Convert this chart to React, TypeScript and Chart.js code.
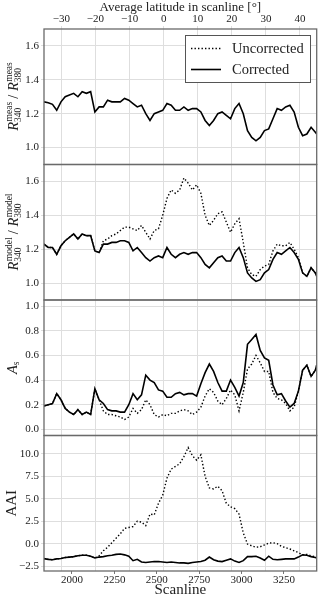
import React, { useEffect, useRef } from 'react';
import { Chart, registerables } from 'chart.js';

Chart.register(...registerables);

const FONT = "'Liberation Serif', 'DejaVu Serif', 'Times New Roman', serif";
const TEXT = '#222222';
const GRID = '#dedede';
const FRAME = '#6a6a6a';

// Scanline positions of the samples
const SCANLINES = [
  1835, 1860, 1885, 1910, 1935, 1960, 1985, 2010, 2035, 2060,
  2085, 2110, 2135, 2160, 2185, 2210, 2235, 2260, 2285, 2310,
  2335, 2360, 2385, 2410, 2435, 2460, 2485, 2510, 2535, 2560,
  2585, 2610, 2635, 2660, 2685, 2710, 2735, 2760, 2785, 2810,
  2835, 2860, 2885, 2910, 2935, 2960, 2985, 3010, 3035, 3060,
  3085, 3110, 3135, 3160, 3185, 3210, 3235, 3260, 3285, 3310,
  3335, 3360, 3385, 3410, 3435, 3443,
];

const SCAN_TICKS = [2000, 2250, 2500, 2750, 3000, 3250];
const LAT_TICKS = [-30, -20, -10, 0, 10, 20, 30, 40];
const RATIO_TICKS = [1.0, 1.2, 1.4, 1.6];
const AS_TICKS = [0.0, 0.2, 0.4, 0.6, 0.8, 1.0];
const AAI_TICKS = [-2.5, 0.0, 2.5, 5.0, 7.5, 10.0];

// Panel 1: measured ratio (identical for both)
const MEAS_CORR = [
  1.27, 1.265, 1.255, 1.22, 1.27, 1.30, 1.31, 1.32, 1.30, 1.33,
  1.32, 1.33, 1.21, 1.24, 1.24, 1.28, 1.27, 1.27, 1.27, 1.29,
  1.28, 1.26, 1.24, 1.25, 1.20, 1.16, 1.20, 1.21, 1.22, 1.26,
  1.25, 1.22, 1.22, 1.24, 1.22, 1.23, 1.23, 1.21, 1.16, 1.13,
  1.16, 1.20, 1.21, 1.19, 1.17, 1.23, 1.26, 1.20, 1.10, 1.06,
  1.04, 1.06, 1.10, 1.11, 1.17, 1.23, 1.22, 1.24, 1.25, 1.21,
  1.12, 1.07, 1.08, 1.12, 1.09, 1.08,
];

// Panel 2: modelled ratio
const MODEL_CORR = [
  1.23, 1.21, 1.21, 1.17, 1.22, 1.25, 1.27, 1.29, 1.26, 1.29,
  1.28, 1.28, 1.19, 1.18, 1.23, 1.23, 1.24, 1.24, 1.25, 1.25,
  1.24, 1.19, 1.21, 1.18, 1.15, 1.13, 1.15, 1.16, 1.15, 1.21,
  1.17, 1.15, 1.17, 1.18, 1.17, 1.18, 1.18, 1.15, 1.11, 1.09,
  1.12, 1.15, 1.16, 1.13, 1.13, 1.18, 1.21, 1.15, 1.06, 1.03,
  1.01, 1.02, 1.06, 1.08, 1.14, 1.18, 1.17, 1.19, 1.21, 1.18,
  1.14, 1.06, 1.04, 1.09, 1.06, 1.04,
];
const MODEL_UNCORR = [
  1.23, 1.21, 1.21, 1.17, 1.22, 1.25, 1.27, 1.29, 1.26, 1.29,
  1.28, 1.28, 1.19, 1.18, 1.25, 1.26, 1.28, 1.29, 1.31, 1.33,
  1.33, 1.32, 1.31, 1.34, 1.30, 1.26, 1.31, 1.32, 1.40, 1.50,
  1.55, 1.53, 1.55, 1.62, 1.59, 1.55, 1.58, 1.53, 1.40, 1.34,
  1.37, 1.41, 1.42, 1.36, 1.30, 1.35, 1.38, 1.24, 1.09, 1.05,
  1.04, 1.08, 1.10, 1.11, 1.19, 1.23, 1.22, 1.22, 1.24, 1.20,
  1.15, 1.06, 1.04, 1.09, 1.06, 1.04,
];

// Panel 3: surface albedo
const AS_CORR = [
  0.19, 0.20, 0.21, 0.29, 0.24, 0.17, 0.14, 0.12, 0.16, 0.12,
  0.14, 0.12, 0.33, 0.24, 0.21, 0.16, 0.15, 0.15, 0.14, 0.14,
  0.20, 0.29, 0.24, 0.28, 0.44, 0.40, 0.38, 0.32, 0.31, 0.26,
  0.26, 0.29, 0.30, 0.28, 0.29, 0.29, 0.27, 0.37, 0.46, 0.53,
  0.47, 0.38, 0.31, 0.31, 0.40, 0.34, 0.27, 0.38, 0.69, 0.73,
  0.77, 0.64, 0.58, 0.56, 0.36, 0.28, 0.29, 0.23, 0.18, 0.21,
  0.31, 0.48, 0.52, 0.43, 0.48, 0.52,
];
const AS_UNCORR = [
  0.19, 0.20, 0.21, 0.29, 0.24, 0.17, 0.14, 0.12, 0.16, 0.12,
  0.14, 0.12, 0.33, 0.24, 0.15, 0.12, 0.12, 0.11, 0.10, 0.08,
  0.10, 0.17, 0.13, 0.16, 0.24, 0.20, 0.12, 0.10, 0.12, 0.11,
  0.13, 0.13, 0.15, 0.16, 0.15, 0.12, 0.14, 0.18, 0.27, 0.33,
  0.30, 0.23, 0.20, 0.25, 0.32, 0.28, 0.15, 0.30, 0.49, 0.53,
  0.60, 0.54, 0.47, 0.47, 0.30, 0.25, 0.24, 0.21, 0.15, 0.18,
  0.31, 0.48, 0.52, 0.43, 0.48, 0.52,
];

// Panel 4: absorbing aerosol index
const AAI_CORR = [
  -1.67, -1.75, -1.8, -1.7, -1.65, -1.55, -1.5, -1.45, -1.35, -1.3,
  -1.3, -1.4, -1.6, -1.5, -1.45, -1.35, -1.3, -1.2, -1.15, -1.25,
  -1.4, -1.9, -1.75, -2.05, -2.1, -2.05, -2.0, -2.0, -2.05, -2.1,
  -2.05, -2.1, -2.15, -2.15, -2.2, -2.1, -2.05, -2.0, -1.85, -1.5,
  -1.8, -1.95, -2.0, -1.85, -1.7, -1.95, -2.1, -1.9, -1.45, -1.45,
  -1.4, -1.6, -1.85, -1.4, -1.75, -1.8, -1.75, -1.7, -1.7, -1.7,
  -1.5, -1.25, -1.3, -1.45, -1.55, -1.6,
];
const AAI_UNCORR = [
  -1.67, -1.75, -1.8, -1.7, -1.65, -1.55, -1.5, -1.45, -1.35, -1.3,
  -1.3, -1.4, -1.6, -1.35, -0.8, -0.4, 0.1, 0.6, 1.1, 1.7,
  1.8, 1.9, 2.5, 2.4, 2.0, 3.3, 3.2, 4.5, 5.4, 7.3,
  8.3, 8.6, 8.9, 9.7, 10.7, 9.8, 9.3, 9.9, 7.5, 6.2,
  6.1, 6.4, 5.9, 4.5, 4.1, 3.9, 3.3, 1.2, -0.05, -0.25,
  -0.4, -0.35, -0.15, 0.05, 0.1, 0.0, -0.3, -0.45, -0.6, -0.8,
  -1.0, -1.25, -1.2, -1.35, -1.45, -1.55,
];

const X_MIN = 1835;
const X_MAX = 3443;
const LAT_MIN = -35.1;
const LAT_MAX = 44.9;

const fmtMinus = (s: string) => s.replace('-', '\u2212');

const pts = (arr: number[]) => SCANLINES.map((s, i) => ({ x: s, y: arr[i] }));

const solid = (data: number[], yAxisID: string) => ({
  data: pts(data),
  yAxisID,
  xAxisID: 'x',
  borderColor: '#000',
  borderWidth: 1.6,
  pointRadius: 0,
  fill: false,
  tension: 0,
  order: 0,
});
const dotted = (data: number[], yAxisID: string) => ({
  data: pts(data),
  yAxisID,
  xAxisID: 'x',
  borderColor: '#000',
  borderWidth: 1.4,
  borderDash: [1.4, 2.1],
  borderCapStyle: 'butt',
  pointRadius: 0,
  fill: false,
  tension: 0,
  order: 1,
});

const yScale = (min: number, max: number, ticks: number[], weight: number) => ({
  type: 'linear',
  position: 'left',
  stack: 'panels',
  stackWeight: 1,
  weight,
  min,
  max,
  afterBuildTicks: (s: any) => {
    s.ticks = ticks.map((v) => ({ value: v }));
  },
  afterFit: (s: any) => {
    s.width = 44;
  },
  grid: { color: GRID, lineWidth: 1, drawTicks: true, tickLength: 3, tickColor: GRID },
  border: { display: false },
  ticks: {
    autoSkip: false,
    padding: 2,
    color: TEXT,
    font: { family: FONT, size: 11 },
    callback: (v: number) => fmtMinus(Number(v).toFixed(1)),
  },
});

type Part =
  | { t: string; size: number; italic?: boolean }
  | { sup: string; sub: string; size: number };

function drawRich(ctx: CanvasRenderingContext2D, x: number, cy: number, parts: Part[]) {
  ctx.save();
  ctx.translate(x, cy);
  ctx.rotate(-Math.PI / 2);
  ctx.fillStyle = TEXT;
  ctx.textBaseline = 'alphabetic';
  ctx.textAlign = 'left';
  const fontOf = (size: number, italic?: boolean) => `${italic ? 'italic ' : ''}${size}px ${FONT}`;
  const widths = parts.map((p) => {
    if ('t' in p) {
      ctx.font = fontOf(p.size, p.italic);
      return ctx.measureText(p.t).width;
    }
    ctx.font = fontOf(p.size);
    return Math.max(ctx.measureText(p.sup).width, ctx.measureText(p.sub).width);
  });
  const total = widths.reduce((a, b) => a + b, 0);
  let cx = -total / 2;
  parts.forEach((p, i) => {
    if ('t' in p) {
      ctx.font = fontOf(p.size, p.italic);
      ctx.fillText(p.t, cx, 0);
    } else {
      ctx.font = fontOf(p.size);
      ctx.fillText(p.sup, cx + 0.5, -6.5);
      ctx.fillText(p.sub, cx, 2.8);
    }
    cx += widths[i];
  });
  ctx.restore();
}

const panelPlugin = {
  id: 'panelDecor',
  afterDatasetsDraw(chart: any) {
    const { ctx, chartArea } = chart;
    const left = chartArea.left;
    const w = chartArea.right - chartArea.left;
    ctx.save();
    ctx.strokeStyle = FRAME;
    ctx.lineWidth = 1.3;
    ['y1', 'y2', 'y3', 'y4'].forEach((id) => {
      const s = chart.scales[id];
      ctx.strokeRect(left, s.top, w, s.bottom - s.top);
    });
    ctx.restore();

    // Legend box inside the first panel
    const lx = 185;
    const ly = 35;
    const lw = 125;
    const lh = 47;
    ctx.save();
    ctx.fillStyle = '#ffffff';
    ctx.fillRect(lx, ly, lw, lh);
    ctx.strokeStyle = '#555555';
    ctx.lineWidth = 1;
    ctx.strokeRect(lx + 0.5, ly + 0.5, lw, lh);
    ctx.strokeStyle = '#000';
    ctx.lineWidth = 1.4;
    ctx.setLineDash([1.4, 2.1]);
    ctx.beginPath();
    ctx.moveTo(191, 48.5);
    ctx.lineTo(221, 48.5);
    ctx.stroke();
    ctx.setLineDash([]);
    ctx.lineWidth = 1.6;
    ctx.beginPath();
    ctx.moveTo(191, 69.5);
    ctx.lineTo(221, 69.5);
    ctx.stroke();
    ctx.fillStyle = TEXT;
    ctx.font = `14.5px ${FONT}`;
    ctx.textBaseline = 'middle';
    ctx.textAlign = 'left';
    ctx.fillText('Uncorrected', 232, 49);
    ctx.fillText('Corrected', 232, 70);
    ctx.restore();

    // y-axis titles
    const mid = (id: string) => (chart.scales[id].top + chart.scales[id].bottom) / 2;
    drawRich(ctx, 18, mid('y1'), [
      { t: 'R', size: 14.5, italic: true },
      { sup: 'meas', sub: '340', size: 9.5 },
      { t: ' / ', size: 14.5 },
      { t: 'R', size: 14.5, italic: true },
      { sup: 'meas', sub: '380', size: 9.5 },
    ]);
    drawRich(ctx, 18, mid('y2'), [
      { t: 'R', size: 14.5, italic: true },
      { sup: 'model', sub: '340', size: 9.5 },
      { t: ' / ', size: 14.5 },
      { t: 'R', size: 14.5, italic: true },
      { sup: 'model', sub: '380', size: 9.5 },
    ]);
    drawRich(ctx, 16.5, mid('y3'), [
      { t: 'A', size: 14.5, italic: true },
      { sup: '', sub: 's', size: 9.5 },
    ]);
    drawRich(ctx, 15.5, mid('y4'), [{ t: 'AAI', size: 15 }]);
  },
};

export default function App() {
  const ref = useRef<HTMLCanvasElement>(null);

  useEffect(() => {
    const canvas = ref.current;
    if (!canvas) return;
    const chart = new Chart(canvas, {
      type: 'line',
      data: {
        datasets: [
          solid(MEAS_CORR, 'y1'),
          solid(MODEL_CORR, 'y2'),
          dotted(MODEL_UNCORR, 'y2'),
          solid(AS_CORR, 'y3'),
          dotted(AS_UNCORR, 'y3'),
          solid(AAI_CORR, 'y4'),
          dotted(AAI_UNCORR, 'y4'),
        ] as any,
      },
      options: {
        responsive: false,
        animation: false,
        events: [],
        layout: { padding: { left: 0, right: 3.3, top: 0, bottom: 0 } },
        plugins: {
          legend: { display: false },
          tooltip: { enabled: false },
          title: { display: false },
        },
        scales: {
          x: {
            type: 'linear',
            position: 'bottom',
            min: X_MIN,
            max: X_MAX,
            afterBuildTicks: (s: any) => {
              s.ticks = SCAN_TICKS.map((v) => ({ value: v }));
            },
            afterFit: (s: any) => {
              s.height = 29;
            },
            grid: { drawOnChartArea: false, drawTicks: true, tickLength: 3, tickColor: '#777', lineWidth: 1 },
            border: { display: false },
            ticks: {
              autoSkip: false,
              maxRotation: 0,
              padding: 0,
              color: TEXT,
              font: { family: FONT, size: 11 },
              callback: (v: number) => String(v),
            },
            title: {
              display: true,
              text: 'Scanline',
              color: TEXT,
              font: { family: FONT, size: 15 },
              padding: { top: 0, bottom: 1 },
            },
          },
          x2: {
            type: 'linear',
            position: 'top',
            min: LAT_MIN,
            max: LAT_MAX,
            afterBuildTicks: (s: any) => {
              s.ticks = LAT_TICKS.map((v) => ({ value: v }));
            },
            afterFit: (s: any) => {
              s.height = 29;
            },
            grid: { color: GRID, lineWidth: 1, drawTicks: true, tickLength: 3, tickColor: GRID },
            border: { display: false },
            ticks: {
              autoSkip: false,
              maxRotation: 0,
              padding: 0,
              color: TEXT,
              font: { family: FONT, size: 11 },
              callback: (v: number) => fmtMinus(String(v)),
            },
            title: {
              display: true,
              text: 'Average latitude in scanline [\u00b0]',
              color: TEXT,
              font: { family: FONT, size: 13, lineHeight: 1.1 },
              padding: { top: 0, bottom: 0 },
            },
          },
          y1: yScale(0.9, 1.7, RATIO_TICKS, 4),
          y2: yScale(0.9, 1.7, RATIO_TICKS, 3),
          y3: yScale(-0.05, 1.05, AS_TICKS, 2),
          y4: yScale(-3.05, 12.05, AAI_TICKS, 1),
        } as any,
      },
      plugins: [panelPlugin],
    });
    return () => chart.destroy();
  }, []);

  return (
    <div style={{ position: 'absolute', left: 0, top: 0, width: 320, height: 600, background: '#ffffff' }}>
      <canvas ref={ref} width={320} height={600} style={{ display: 'block', width: 320, height: 600 }} />
    </div>
  );
}
